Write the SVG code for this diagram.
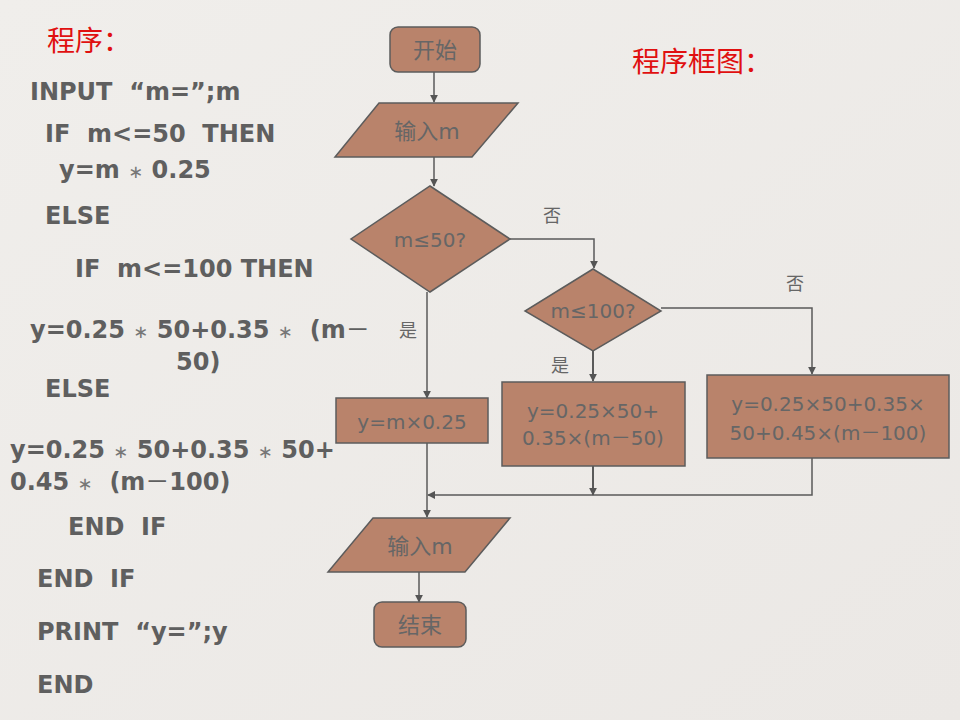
<svg xmlns="http://www.w3.org/2000/svg" width="960" height="720" viewBox="0 0 960 720">
<defs>
<linearGradient id="bg" x1="0" y1="0" x2="1" y2="1">
<stop offset="0" stop-color="#f0eeeb"/>
<stop offset="1" stop-color="#ebe8e5"/>
</linearGradient>
<marker id="ah" viewBox="0 0 10 10" refX="9" refY="5" markerWidth="8" markerHeight="8" markerUnits="userSpaceOnUse" orient="auto">
<path d="M0,0 L10,5 L0,10 z" fill="#555"/>
</marker>
<style>
.shape{fill:#b9836b;stroke:#5c5c5c;stroke-width:1.5}
.nt{font-family:"DejaVu Sans","Noto Sans CJK SC",sans-serif;font-size:20px;fill:#666;text-anchor:middle}
.cjk{font-size:22px}
.code{font-family:"DejaVu Sans","Noto Sans CJK SC",sans-serif;font-size:24px;font-weight:bold;fill:#5f5f5f}
.ast{font-weight:normal;font-size:18px;fill:#777}
.title{font-family:"Noto Sans CJK SC",sans-serif;font-size:28px;fill:#e01010}
.lbl{font-family:"Noto Sans CJK SC",serif;font-size:18px;fill:#666;text-anchor:middle}
.cn{fill:none;stroke:#5a5a5a;stroke-width:1.5}
</style>
</defs>
<rect x="0" y="0" width="960" height="720" fill="url(#bg)"/>

<g id="titles">
<text class="title" x="47" y="51">程序：</text>
<text class="title" x="632" y="72">程序框图：</text>
</g>

<g id="program" class="code">
<text x="30" y="100">INPUT &#160;“m=”;m</text>
<text x="45" y="142">IF &#160;m&lt;=50 &#160;THEN</text>
<text x="59" y="178">y=m <tspan class="ast">∗</tspan> 0.25</text>
<text x="45" y="224">ELSE</text>
<text x="75" y="277">IF &#160;m&lt;=100 THEN</text>
<text x="30" y="338">y=0.25 <tspan class="ast">∗</tspan> 50+0.35 <tspan class="ast">∗</tspan> &#160;(m<tspan font-weight="normal">－</tspan></text>
<text x="176" y="370">50)</text>
<text x="45" y="397">ELSE</text>
<text x="10" y="458">y=0.25 <tspan class="ast">∗</tspan> 50+0.35 <tspan class="ast">∗</tspan> 50+</text>
<text x="10" y="490">0.45 <tspan class="ast">∗</tspan> &#160;(m<tspan font-weight="normal">－</tspan>100)</text>
<text x="68" y="535">END &#160;IF</text>
<text x="37" y="587">END &#160;IF</text>
<text x="37" y="640">PRINT &#160;“y=”;y</text>
<text x="37" y="693">END</text>
</g>

<g id="connectors">
<line class="cn" x1="434" y1="72" x2="434" y2="102" marker-end="url(#ah)"/>
<line class="cn" x1="434" y1="157" x2="434" y2="186" marker-end="url(#ah)"/>
<polyline class="cn" points="510,239 594,239 594,268" marker-end="url(#ah)"/>
<polyline class="cn" points="661,308 812,308 812,374" marker-end="url(#ah)"/>
<line class="cn" x1="593" y1="351" x2="593" y2="381" marker-end="url(#ah)" style="stroke-width:2"/>
<line class="cn" x1="427" y1="292" x2="427" y2="398" marker-end="url(#ah)"/>
<line class="cn" x1="427" y1="443" x2="427" y2="517" marker-end="url(#ah)"/>
<polyline class="cn" points="812,458 812,495 428,495" marker-end="url(#ah)"/>
<line class="cn" x1="593" y1="466" x2="593" y2="495" marker-end="url(#ah)" style="stroke-width:2"/>
<line class="cn" x1="419" y1="572" x2="419" y2="602" marker-end="url(#ah)"/>
</g>

<g id="labels">
<text class="lbl" x="552" y="222">否</text>
<text class="lbl" x="795" y="290">否</text>
<text class="lbl" x="408" y="337">是</text>
<text class="lbl" x="560" y="372">是</text>
</g>

<g id="start">
<rect class="shape" x="390" y="27" width="90" height="45" rx="8"/>
<text class="nt cjk" x="435" y="58">开始</text>
</g>
<g id="input1">
<polygon class="shape" points="379,103 518,103 472,157 335,157"/>
<text class="nt cjk" x="427" y="139">输入m</text>
</g>
<g id="dec1">
<polygon class="shape" points="430,186 510,239 430,292 351,239"/>
<text class="nt" x="430" y="247">m≤50?</text>
</g>
<g id="dec2">
<polygon class="shape" points="593,269 661,311 593,351 525,311"/>
<text class="nt" x="593" y="318">m≤100?</text>
</g>
<g id="proc1">
<rect class="shape" x="336" y="398" width="152" height="45"/>
<text class="nt" x="412" y="429">y=m×0.25</text>
</g>
<g id="proc2">
<rect class="shape" x="502" y="382" width="183" height="84"/>
<text class="nt" x="593" y="418">y=0.25×50+</text>
<text class="nt" x="593" y="445">0.35×(m－50)</text>
</g>
<g id="proc3">
<rect class="shape" x="707" y="375" width="242" height="83"/>
<text class="nt" x="828" y="411">y=0.25×50+0.35×</text>
<text class="nt" x="828" y="440">50+0.45×(m－100)</text>
</g>
<g id="input2">
<polygon class="shape" points="373,518 510,518 465,572 328,572"/>
<text class="nt cjk" x="420" y="554">输入m</text>
</g>
<g id="end">
<rect class="shape" x="374" y="602" width="92" height="45" rx="8"/>
<text class="nt cjk" x="420" y="633">结束</text>
</g>
</svg>
